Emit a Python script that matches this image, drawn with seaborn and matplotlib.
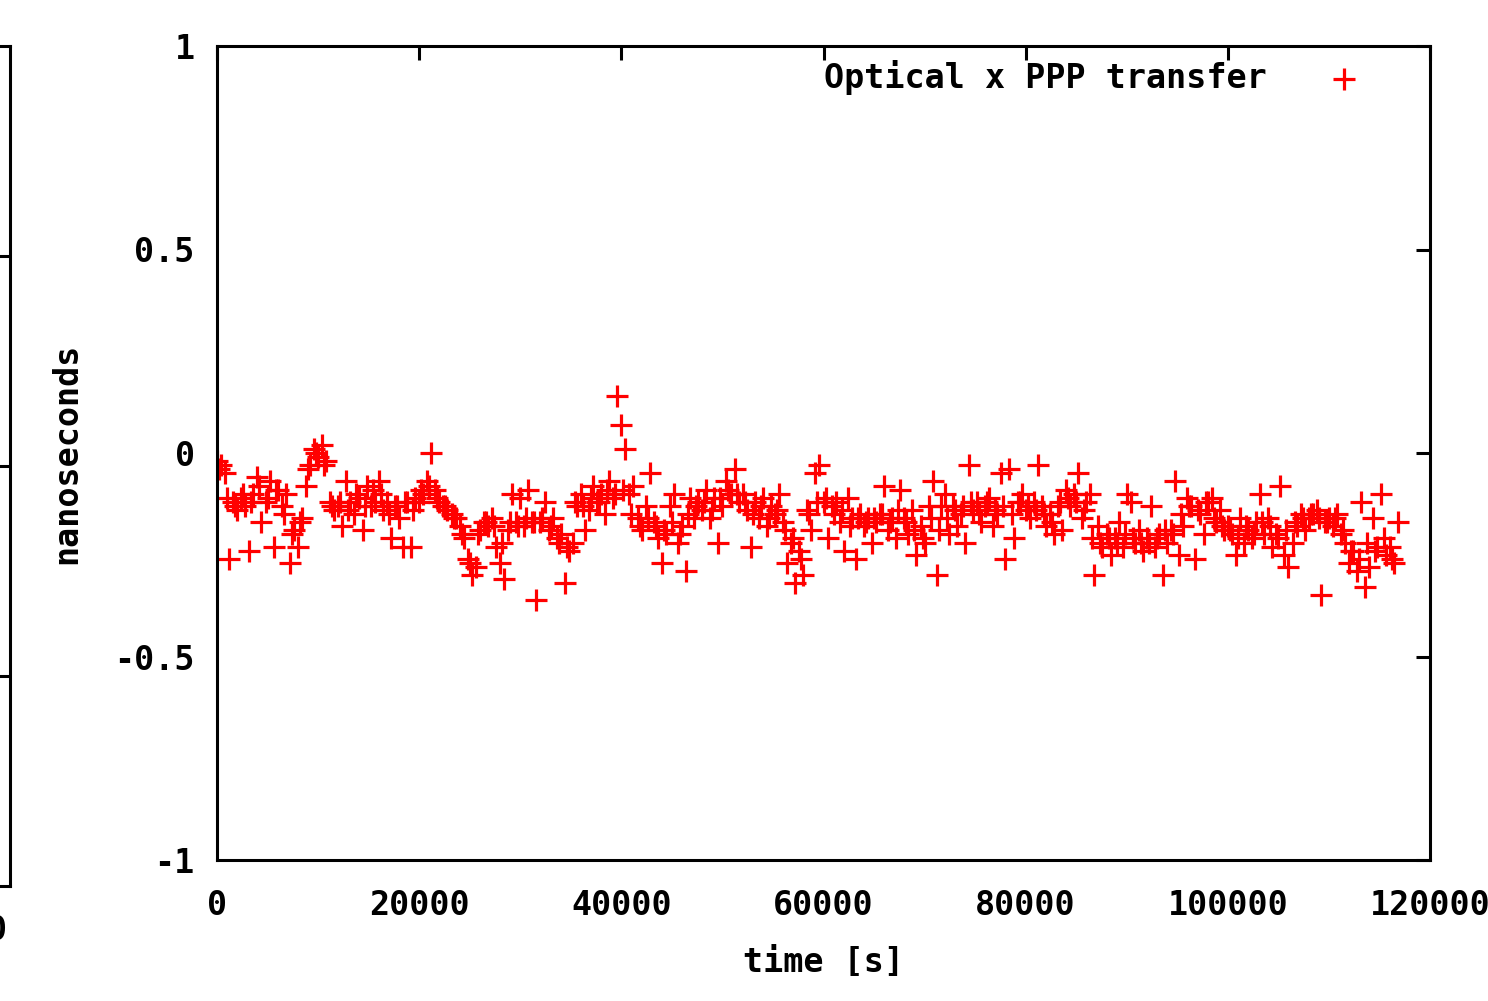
import numpy as np
import pandas as pd
import matplotlib
matplotlib.use("Agg")
import matplotlib.pyplot as plt
import seaborn as sns

# ---- data ----
t_step = 400         # s, sampling interval of the first pass
offsets_ns = [
    -0.02, -0.03, -0.05, -0.26, -0.12, -0.14, -0.11, -0.13, -0.24, -0.10,
    -0.06, -0.17, -0.12, -0.07, -0.23, -0.09, -0.13, -0.10, -0.27, -0.19,
    -0.23, -0.16, -0.08, -0.03, 0.01, -0.01, 0.02, -0.02, -0.12, -0.14,
    -0.13, -0.18, -0.07, -0.12, -0.15, -0.11, -0.19, -0.08, -0.13, -0.12,
    -0.07, -0.14, -0.12, -0.21, -0.13, -0.16, -0.23, -0.12, -0.23, -0.11,
    -0.12, -0.10, -0.07, 0.00, -0.09, -0.12, -0.13, -0.14, -0.15, -0.16,
    -0.18, -0.21, -0.26, -0.30, -0.28, -0.19, -0.17, -0.18, -0.16, -0.23,
    -0.27, -0.31, -0.19, -0.10, -0.17, -0.11, -0.18, -0.09, -0.17, -0.36,
    -0.17, -0.12, -0.19, -0.16, -0.21, -0.20, -0.32, -0.24, -0.22, -0.13,
    -0.10, -0.19, -0.14, -0.08, -0.12, -0.10, -0.15, -0.07, -0.11, 0.14,
    0.07, 0.01, -0.10, -0.08, -0.16, -0.19, -0.13, -0.05, -0.17, -0.21,
    -0.27, -0.20, -0.13, -0.10, -0.22, -0.18, -0.29, -0.11, -0.16, -0.12,
    -0.14, -0.09, -0.16, -0.11, -0.22, -0.13, -0.07, -0.10, -0.04, -0.12,
    -0.10, -0.14, -0.23, -0.12, -0.16, -0.11, -0.18, -0.13, -0.15, -0.10,
    -0.17, -0.27, -0.22, -0.32, -0.24, -0.30, -0.14, -0.19, -0.05, -0.03,
    -0.12, -0.21, -0.13, -0.12, -0.17, -0.24, -0.11, -0.16, -0.26, -0.15,
    -0.18, -0.16, -0.22, -0.17, -0.15, -0.08, -0.19, -0.16, -0.21, -0.09,
    -0.16, -0.20, -0.14, -0.25, -0.18, -0.22, -0.13, -0.07, -0.30, -0.13,
    -0.10, -0.20, -0.13, -0.18, -0.15, -0.22, -0.03, -0.14, -0.12, -0.17,
    -0.13, -0.11, -0.18, -0.15, -0.05, -0.26, -0.04, -0.21, -0.12, -0.10,
    -0.14, -0.16, -0.12, -0.03, -0.13, -0.18, -0.15, -0.20, -0.13, -0.19,
    -0.09, -0.13, -0.10, -0.05, -0.16, -0.12, -0.10, -0.30, -0.18, -0.23,
    -0.20, -0.25, -0.21, -0.17, -0.23, -0.10, -0.12, -0.22, -0.19, -0.24,
    -0.21, -0.13, -0.23, -0.20, -0.30, -0.22, -0.19, -0.07, -0.25, -0.18,
    -0.11, -0.13, -0.26, -0.15, -0.20, -0.12, -0.11, -0.17, -0.14, -0.19,
    -0.18, -0.20, -0.25, -0.16, -0.22, -0.19, -0.21, -0.17, -0.10, -0.20,
    -0.16, -0.23, -0.20, -0.08, -0.25, -0.28, -0.22, -0.18, -0.15, -0.19,
    -0.16, -0.15, -0.14, -0.35, -0.17, -0.16, -0.18, -0.15, -0.20, -0.22,
    -0.27, -0.24, -0.29, -0.12, -0.33, -0.28, -0.16, -0.23, -0.10, -0.25,
    -0.23, -0.27, -0.17,
]

# second, interleaved pass (dense core of the band)
t2_start = 200       # s
t2_step = 800        # s
offsets2_ns = [
    -0.04, -0.11, -0.13, -0.10, -0.12,
    -0.08, -0.11, -0.09, -0.15, -0.20,
    -0.17, -0.04, 0.00, -0.03, -0.13,
    -0.12, -0.14, -0.10, -0.13, -0.09,
    -0.10, -0.15, -0.13, -0.12, -0.14,
    -0.09, -0.08, -0.11, -0.13, -0.16,
    -0.20, -0.27, -0.20, -0.17, -0.18,
    -0.22, -0.17, -0.18, -0.16, -0.17,
    -0.16, -0.18, -0.22, -0.23, -0.12,
    -0.13, -0.11, -0.12, -0.09, -0.10,
    -0.09, -0.15, -0.18, -0.16, -0.18,
    -0.19, -0.17, -0.20, -0.15, -0.13,
    -0.12, -0.14, -0.11, -0.09, -0.10,
    -0.12, -0.15, -0.13, -0.16, -0.14,
    -0.19, -0.21, -0.26, -0.15, -0.12,
    -0.11, -0.15, -0.14, -0.18, -0.16,
    -0.17, -0.16, -0.15, -0.17, -0.14,
    -0.17, -0.19, -0.21, -0.16, -0.19,
    -0.16, -0.14, -0.13, -0.12, -0.15,
    -0.12, -0.14, -0.13, -0.15, -0.12,
    -0.13, -0.14, -0.15, -0.17, -0.12,
    -0.11, -0.12, -0.14, -0.21, -0.22,
    -0.21, -0.22, -0.20, -0.21, -0.22,
    -0.22, -0.21, -0.19, -0.20, -0.15,
    -0.13, -0.14, -0.12, -0.16, -0.18,
    -0.19, -0.21, -0.18, -0.20, -0.17,
    -0.18, -0.21, -0.19, -0.17, -0.16,
    -0.15, -0.16, -0.17, -0.16, -0.19,
    -0.24, -0.26, -0.22, -0.24, -0.21,
    -0.26,
]

x_ticks = [0, 20000, 40000, 60000, 80000, 100000, 120000]
x_tick_labels = ["0", "20000", "40000", "60000", "80000", "100000", "120000"]
y_ticks = [-1, -0.5, 0, 0.5, 1]
y_tick_labels = ["-1", "-0.5", "0", "0.5", "1"]
series_label = "Optical x PPP transfer"

times1 = t_step * np.arange(len(offsets_ns))
times2 = t2_start + t2_step * np.arange(len(offsets2_ns))
df = pd.DataFrame({"time": np.concatenate([times1, times2]),
                   "ns": offsets_ns + offsets2_ns})
df = df.sort_values("time").reset_index(drop=True)

# ---- style ----
sns.set_style("white")
plt.rcParams["font.family"] = ["DejaVu Sans Mono", "DejaVu Sans"]
plt.rcParams["font.weight"] = "bold"
plt.rcParams["axes.unicode_minus"] = False
plt.rcParams["text.color"] = "black"
plt.rcParams["axes.labelcolor"] = "black"
plt.rcParams["xtick.color"] = "black"
plt.rcParams["ytick.color"] = "black"

W, H = 1488, 1001
fig = plt.figure(figsize=(W / 100, H / 100), dpi=100)
fig.patch.set_facecolor("white")

def fx(px):
    return px / W

def fy(py):
    return 1 - py / H

FS = 24

# partial neighbouring chart on the far left
ax0 = fig.add_axes([fx(-300), fy(886), fx(310), fy(46) - fy(886)])
ax0.set_xlim(0, 1)
ax0.set_ylim(0, 4)
ax0.set_xticks([])
ax0.set_yticks([1, 2, 3])
ax0.yaxis.tick_right()
ax0.tick_params(axis="y", direction="in", length=10, width=2.2, labelright=False, right=True)
for s in ax0.spines.values():
    s.set_linewidth(2.2)
    s.set_color("black")
fig.text(fx(7), fy(930), "0", ha="right", va="center", fontsize=FS,
         fontweight="bold", color="black")

# main chart
ax = fig.add_axes([fx(217), fy(860), fx(1430) - fx(217), fy(46) - fy(860)])
sns.scatterplot(data=df, x="time", y="ns", marker="+", color="#ff0000",
                s=230, linewidth=2.3, ax=ax, label=series_label)

ax.set_xlim(0, 120000)
ax.set_ylim(-1, 1)
ax.set_xticks(x_ticks)
ax.set_xticklabels(x_tick_labels)
ax.set_yticks(y_ticks)
ax.set_yticklabels(y_tick_labels)
ax.tick_params(axis="both", direction="in", length=10, width=2.2,
               top=True, right=True, labelsize=FS, colors="black")
ax.tick_params(axis="x", pad=21)
ax.tick_params(axis="y", pad=16)
for lab in ax.get_xticklabels() + ax.get_yticklabels():
    lab.set_fontweight("bold")
    lab.set_color("black")
for s in ax.spines.values():
    s.set_linewidth(2.2)
    s.set_color("black")

ax.set_xlabel("time [s]", fontsize=FS, fontweight="bold", labelpad=17, color="black")
ax.set_ylabel("nanoseconds", fontsize=FS, fontweight="bold", labelpad=22, color="black")

leg = ax.legend(loc="upper right", bbox_to_anchor=(0.962, 1.012), frameon=False,
                markerfirst=False, fontsize=FS, handlelength=1.0,
                handletextpad=1.8, borderaxespad=0.3)
for txt in leg.get_texts():
    txt.set_fontweight("bold")
    txt.set_color("black")

fig.savefig("out.png", dpi=100, facecolor="white")
